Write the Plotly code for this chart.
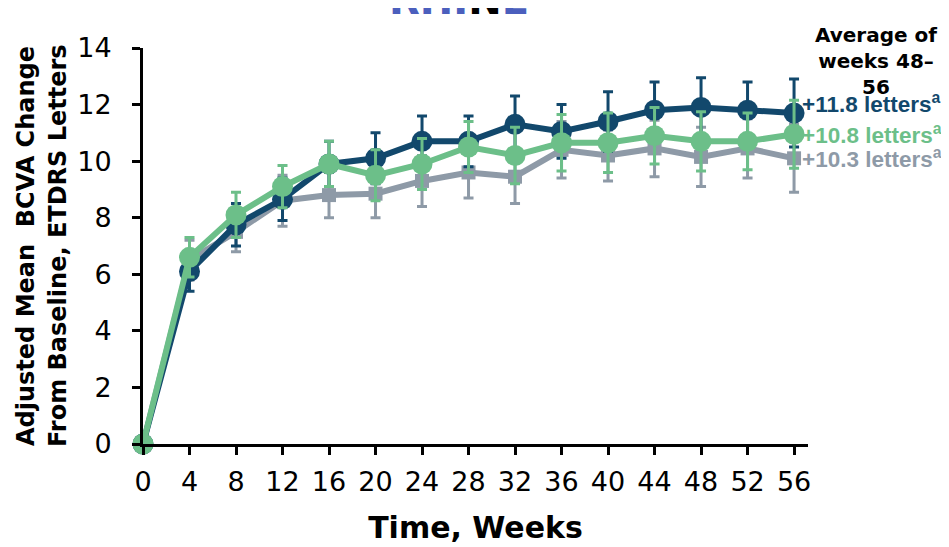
import plotly.graph_objects as go

weeks = [0, 4, 8, 12, 16, 20, 24, 28, 32, 36, 40, 44, 48, 52, 56]

navy_vals = [0, 6.1, 7.75, 8.65, 9.9, 10.1, 10.7, 10.7, 11.3, 11.05, 11.4, 11.8, 11.9, 11.8, 11.7]
navy_err = [0, 0.7, 0.75, 0.75, 0.8, 0.9, 0.9, 0.9, 1.0, 0.95, 1.05, 1.0, 1.05, 1.0, 1.2]

green_vals = [0, 6.6, 8.1, 9.1, 9.9, 9.5, 9.9, 10.5, 10.2, 10.65, 10.65, 10.9, 10.7, 10.7, 10.95]
green_err = [0, 0.7, 0.8, 0.75, 0.8, 0.9, 0.9, 0.9, 1.0, 1.0, 1.05, 1.0, 1.05, 1.0, 1.2]

gray_vals = [0, 6.5, 7.5, 8.6, 8.8, 8.85, 9.3, 9.6, 9.45, 10.4, 10.2, 10.45, 10.15, 10.45, 10.1]
gray_err = [0, 0.7, 0.7, 0.9, 0.8, 0.85, 0.9, 0.9, 0.95, 1.0, 0.9, 1.0, 1.05, 1.05, 1.2]

summary_labels = ["+11.8 letters<sup>a</sup>", "+10.8 letters<sup>a</sup>", "+10.3 letters<sup>a</sup>"]
summary_y = [12.05, 10.95, 10.1]

NAVY = "#12486c"
GREEN = "#6cbf89"
GRAY = "#8e9aa7"
BLUE = "#4b5fbd"

# page body has an 8px margin; figure is sized to fit the window
OFF = 8
W, H = 949 - OFF, 547 - OFF
ML, MT = 143 - OFF, 48 - OFF
MR = W - (808 - OFF)
MB = H - (444 - OFF)
PW = W - ML - MR
PH = H - MT - MB


def px_x(px):
    return (px - OFF - ML) / PW


def px_y(py):
    return (H - MB - (py - OFF)) / PH


fig = go.Figure()

series = [
    (gray_vals, gray_err, GRAY, "square", 14),
    (navy_vals, navy_err, NAVY, "circle", 21),
    (green_vals, green_err, GREEN, "circle", 21),
]
for vals, err, col, sym, size in series:
    fig.add_trace(go.Scatter(
        x=weeks, y=vals, mode="lines+markers",
        line=dict(color=col, width=6),
        marker=dict(color=col, symbol=sym, size=size),
        error_y=dict(type="data", array=err, visible=True, color=col,
                     thickness=3, width=5),
        cliponaxis=False, showlegend=False,
    ))

tick_font = dict(family="DejaVu Sans", size=27, color="black")

fig.update_layout(
    width=W, height=H,
    margin=dict(l=ML, r=MR, t=MT, b=MB, autoexpand=False),
    plot_bgcolor="white", paper_bgcolor="white",
    xaxis=dict(
        range=[0, 57.2], tickmode="array", tickvals=weeks,
        ticktext=[str(w) for w in weeks], automargin=False,
        showgrid=False, zeroline=False, showline=True, linecolor="black",
        linewidth=3, ticks="outside", ticklen=8, tickwidth=2.5,
        tickcolor="black", tickfont=tick_font, ticklabelstandoff=4,
        title=dict(text="Time, Weeks", standoff=21,
                   font=dict(family="DejaVu Sans", size=30, color="black",
                             weight="bold")),
    ),
    yaxis=dict(
        range=[0, 14], tickvals=[0, 2, 4, 6, 8, 10, 12, 14], automargin=False,
        showgrid=False, zeroline=False, showline=True, linecolor="black",
        linewidth=3, ticks="outside", ticklen=8, tickwidth=2.5,
        tickcolor="black", tickfont=tick_font, ticklabelstandoff=15,
    ),
)

# Y-axis title as two rotated lines
fig.add_annotation(text="<b>Adjusted Mean\u00a0\u00a0BCVA Change</b>", textangle=-90,
                   xref="paper", yref="paper", x=px_x(26), y=px_y(246),
                   xanchor="center", yanchor="middle", showarrow=False,
                   font=dict(family="DejaVu Sans", size=24, color="black"))
fig.add_annotation(text="<b>From Baseline, ETDRS Letters</b>", textangle=-90,
                   xref="paper", yref="paper", x=px_x(58), y=px_y(246),
                   xanchor="center", yanchor="middle", showarrow=False,
                   font=dict(family="DejaVu Sans", size=24, color="black"))

# Header text on right
fig.add_annotation(text="<b>Average of<br>weeks 48–<br>56</b>",
                   xref="paper", yref="paper", x=px_x(876), y=px_y(61),
                   xanchor="center", yanchor="middle", showarrow=False,
                   font=dict(family="DejaVu Sans", size=20, color="black"))

for lbl, yv, col in zip(summary_labels, summary_y, [NAVY, GREEN, GRAY]):
    fig.add_annotation(text="<b>" + lbl + "</b>", x=weeks[-1], y=yv,
                       xref="x", yref="y", xanchor="left", yanchor="middle",
                       xshift=6, showarrow=False,
                       font=dict(family="Liberation Sans", size=22.5, color=col))

# Cut-off title at top
fig.add_annotation(
    text="<b>RHI<span style='color:black'>N</span>E</b>",
    xref="paper", yref="paper", x=px_x(459), y=px_y(25),
    xanchor="center", yanchor="bottom", showarrow=False,
    font=dict(family="DejaVu Sans", size=40, color=BLUE))

fig.write_html("out.html")
